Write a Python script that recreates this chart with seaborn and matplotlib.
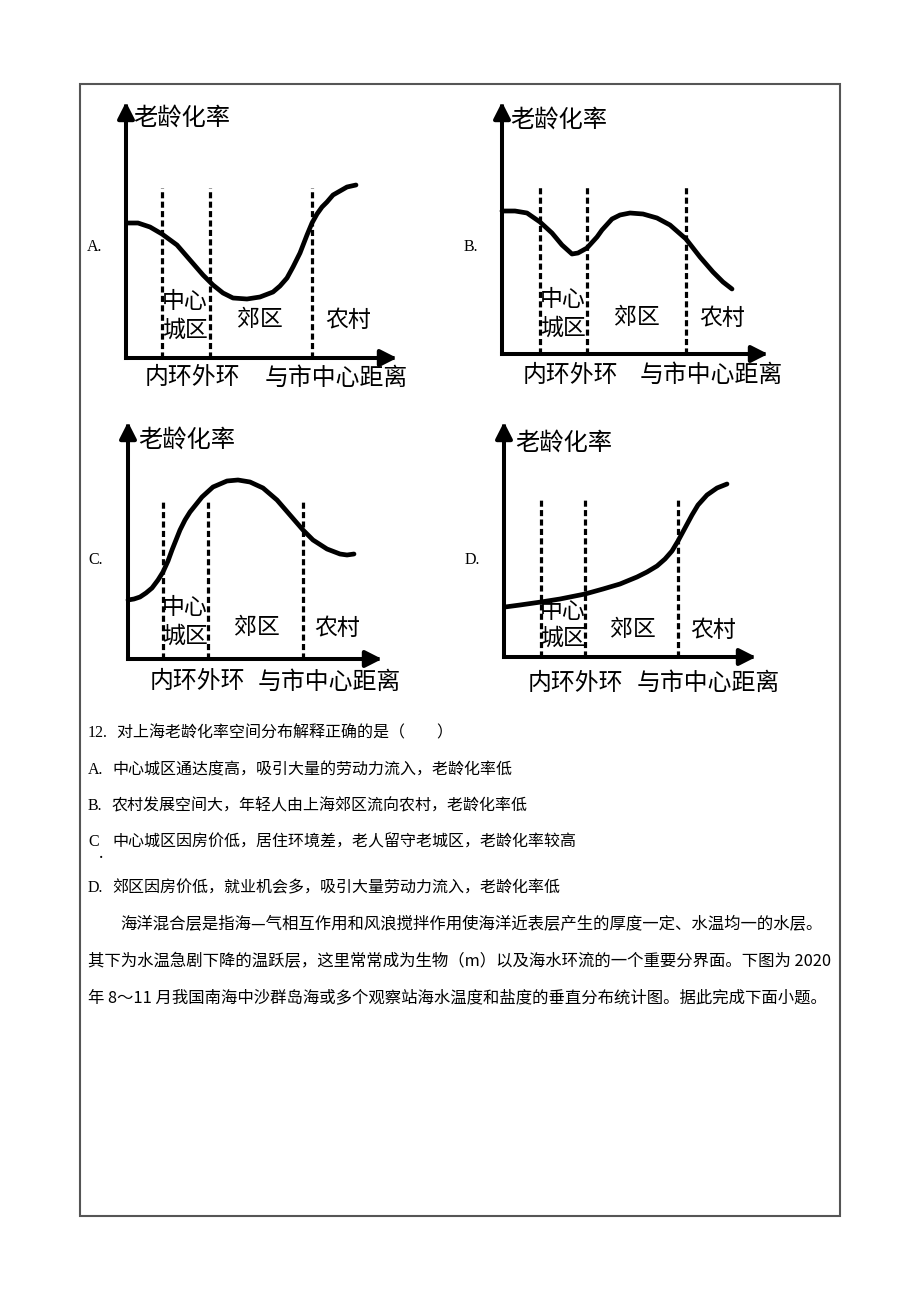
import matplotlib
matplotlib.use("Agg")
import matplotlib.pyplot as plt
from matplotlib.patches import Rectangle
import seaborn as sns
import pandas as pd

# ---------------- data ----------------
# distance from city centre (arbitrary units) and ageing rate (arbitrary units)
a_dist = [1, 12, 24, 36, 51, 64, 77, 87, 97, 107, 121, 134, 147, 154, 161, 167, 174, 181, 186, 191,
          196, 201, 207, 214, 221, 230]
a_rate = [135, 135, 131, 124, 113, 98, 83, 73, 65, 60, 59, 61, 66, 72, 80, 91, 105, 123, 135, 144,
          151, 156, 163, 167, 171, 173]

b_dist = [0, 13, 25, 38, 50, 60, 70, 76, 85, 95, 100, 110, 118, 128, 141, 155, 168, 184, 198, 211, 221, 230]
b_rate = [143, 143, 141, 132, 121, 109, 100, 101, 106, 117, 124, 135, 139, 141, 140, 136, 129, 115, 97, 82, 72, 65]

c_dist = [0, 6, 12, 18, 24, 30, 35, 40, 44, 48, 52, 57, 62, 74, 85, 99, 110, 122, 135, 149, 162, 175,
          185, 199, 212, 219, 226]
c_rate = [59, 60, 62, 66, 71, 79, 87, 98, 109, 119, 129, 139, 147, 162, 172, 178, 179, 177, 171, 159, 144, 129,
          119, 110, 105, 104, 105]

d_dist = [1, 16, 37, 56, 81, 99, 116, 133, 143, 153, 161, 168, 174, 181, 188, 194, 203, 213, 223]
d_rate = [50, 52, 55, 58, 63, 68, 73, 80, 85, 91, 98, 106, 116, 129, 142, 152, 162, 169, 173]

# zone boundaries: inner ring, outer ring, suburb / countryside
a_bounds = [36, 84, 186]
b_bounds = [38, 85, 184]
c_bounds = [35, 80, 175]
d_bounds = [37, 81, 174]

panel_letters = ["A.", "B.", "C.", "D."]
y_title = "老龄化率"
x_title = "与市中心距离"
ring_label = "内环外环"
zone_labels = ["中心", "城区", "郊区", "农村"]

question = "对上海老龄化率空间分布解释正确的是（　　）"
option_keys = ["A.", "B.", "C", "D."]
options = [
    "中心城区通达度高，吸引大量的劳动力流入，老龄化率低",
    "农村发展空间大，年轻人由上海郊区流向农村，老龄化率低",
    "中心城区因房价低，居住环境差，老人留守老城区，老龄化率较高",
    "郊区因房价低，就业机会多，吸引大量劳动力流入，老龄化率低",
]
paragraph = [
    "海洋混合层是指海—气相互作用和风浪搅拌作用使海洋近表层产生的厚度一定、水温均一的水层。",
    "其下为水温急剧下降的温跃层，这里常常成为生物（m）以及海水环流的一个重要分界面。下图为 2020",
    "年 8～11 月我国南海中沙群岛海或多个观察站海水温度和盐度的垂直分布统计图。据此完成下面小题。",
]

# ---------------- style ----------------
sns.set_style("white")
plt.rcParams["font.family"] = ["Noto Sans CJK SC", "DejaVu Sans"]
SERIF = ["Liberation Serif", "Noto Sans CJK SC"]

W, H = 920, 1302
fig = plt.figure(figsize=(W / 100, H / 100), dpi=100)
fig.patch.set_facecolor("white")


def fx(x):
    return x / W


def fy(y):
    return 1 - y / H


def ftext(x, y, s, size, ha="left", va="center", family=None):
    kw = {}
    if family is not None:
        kw["family"] = family
    fig.text(fx(x), fy(y), s, fontsize=size, ha=ha, va=va, color="black", **kw)


# page border
fig.add_artist(Rectangle((fx(80), fy(1216)), 760 / W, 1132 / H, transform=fig.transFigure,
                         fill=False, ec="#555555", lw=1.5))

# panel layout: origin x, origin y, x-axis length, y-axis length (pixels)
layouts = [
    dict(ox=126, oy=358, lx=271, ly=256),
    dict(ox=502, oy=354, lx=266, ly=252),
    dict(ox=128, oy=659, lx=254, ly=237),
    dict(ox=504, oy=657, lx=252, ly=235),
]
series = [(a_dist, a_rate, a_bounds), (b_dist, b_rate, b_bounds),
          (c_dist, c_rate, c_bounds), (d_dist, d_rate, d_bounds)]
dash_tops = [170, 167, 159, 157]

# text positions (pixels) per panel
txt = [
    dict(letter=(87, 247), ytitle=(133, 118), z1=(185, 302), z2=(185, 330), z3=(260, 320), z4=(348, 320),
         ring=(145, 378), xtitle=(265, 378)),
    dict(letter=(464, 247), ytitle=(510, 120), z1=(563, 300), z2=(563, 328), z3=(637, 318), z4=(722, 318),
         ring=(523, 375), xtitle=(640, 375)),
    dict(letter=(88, 560), ytitle=(138, 440), z1=(185, 608), z2=(185, 636), z3=(257, 628), z4=(337, 628),
         ring=(150, 682), xtitle=(258, 682)),
    dict(letter=(465, 560), ytitle=(515, 443), z1=(563, 612), z2=(563, 638), z3=(633, 630), z4=(713, 630),
         ring=(528, 683), xtitle=(637, 683)),
]

for i, (lay, (dist, rate, bounds)) in enumerate(zip(layouts, series)):
    ax = fig.add_axes([fx(lay["ox"]), fy(lay["oy"]), lay["lx"] / W, lay["ly"] / H])
    ax.set_xlim(0, lay["lx"])
    ax.set_ylim(0, lay["ly"])
    ax.set_facecolor("none")
    for sp in ax.spines.values():
        sp.set_visible(False)
    ax.set_xticks([])
    ax.set_yticks([])

    df = pd.DataFrame({"distance": dist, "rate": rate})
    sns.lineplot(data=df, x="distance", y="rate", ax=ax, color="black", lw=3.4,
                 estimator=None, sort=False, legend=False)
    for ln in ax.lines:
        ln.set_solid_capstyle("round")
        ln.set_solid_joinstyle("round")
        ln.set_clip_on(False)
    ax.set_xlabel("")
    ax.set_ylabel("")

    ax.vlines(bounds, 0, dash_tops[i], colors="black", lw=2.3, linestyles=(0, (1.9, 1.05)))

    arrow = dict(arrowstyle="-|>,head_length=0.55,head_width=0.28", lw=2.9, color="black",
                 mutation_scale=18, shrinkA=0, shrinkB=0, capstyle="projecting")
    ax.annotate("", xy=(1, 0), xytext=(0, 0), xycoords="axes fraction",
                textcoords="axes fraction", arrowprops=arrow, annotation_clip=False)
    ax.annotate("", xy=(0, 1), xytext=(0, 0), xycoords="axes fraction",
                textcoords="axes fraction", arrowprops=arrow, annotation_clip=False)

    t = txt[i]
    ftext(*t["letter"], panel_letters[i], 11.5, family=SERIF)
    ftext(*t["ytitle"], y_title, 17.5)
    ftext(*t["z1"], zone_labels[0], 16.5, ha="center")
    ftext(*t["z2"], zone_labels[1], 16.5, ha="center")
    ftext(*t["z3"], zone_labels[2], 16.5, ha="center")
    ftext(*t["z4"], zone_labels[3], 16.5, ha="center")
    ftext(*t["ring"], ring_label, 17.2)
    ftext(*t["xtitle"], x_title, 17.2)

# question text
ftext(88, 733, "12.", 11.5, family=SERIF)
ftext(117, 733, question, 11.5)
opt_y = [770, 806, 842, 888]
for k, body, y in zip(option_keys, options, opt_y):
    ftext(88, y, k, 11.5, family=SERIF)
    ftext(112, y, body, 11.5)
ftext(101, 853, ".", 13, ha="center", family=SERIF)

# paragraph
ftext(120, 925, paragraph[0], 11.8)
ftext(88, 962, paragraph[1], 11.8)
ftext(88, 998, paragraph[2], 11.8)

fig.savefig("out.png", dpi=100, facecolor="white")
